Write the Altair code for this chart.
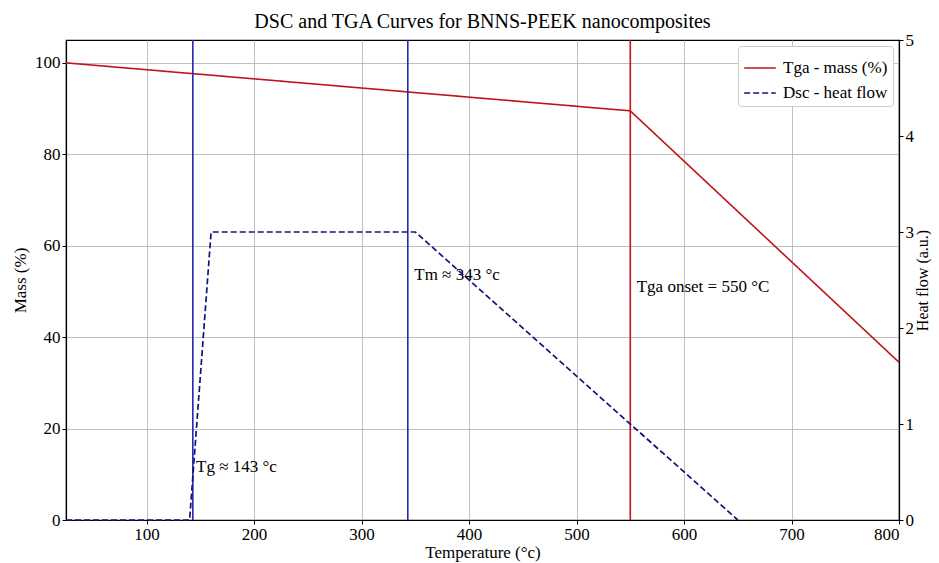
import altair as alt
import pandas as pd

# TGA curve
tga_temp = [25, 550, 800]
tga_mass = [100, 89.5, 34.5]
# DSC curve
dsc_temp = [25, 140, 160, 350, 650]
dsc_heat = [0, 0, 3, 3, 0]
# Marker lines
blue_marks = [143, 343]
red_marks = [550]
# Annotations
ann_text = ["Tg \u2248 143 \u00b0c", "Tm \u2248 343 \u00b0c", "Tga onset = 550 \u00b0C"]
ann_x = [146, 349, 556]
ann_y = [11.5, 53.5, 50.9]

series = ["Tga - mass (%)", "Dsc - heat flow"]
FONT = "Liberation Serif"

tga_df = pd.DataFrame({"T": tga_temp, "v": tga_mass, "s": series[0]})
dsc_df = pd.DataFrame({"T": dsc_temp, "v": dsc_heat, "s": series[1]})
blue_df = pd.DataFrame({"T": blue_marks})
red_df = pd.DataFrame({"T": red_marks})
ann_df = pd.DataFrame({"t": ann_text, "x": ann_x, "y": ann_y})

xscale = alt.Scale(domain=[25, 800], nice=False, zero=False)
xaxis = alt.Axis(title="Temperature (\u00b0c)", values=list(range(100, 801, 100)),
                 grid=True, gridColor="#b0b0b0", gridWidth=0.8,
                 labelPadding=2, titlePadding=2)
color = alt.Color("s:N", scale=alt.Scale(domain=series, range=["#c0141c", "#141478"]),
                  legend=alt.Legend(title=None, orient="top-right", offset=6,
                                    symbolType="stroke", symbolStrokeWidth=1.6,
                                    symbolSize=1000, labelFont=FONT, labelFontSize=17,
                                    strokeColor="#cccccc", fillColor="white",
                                    padding=5, cornerRadius=3, labelColor="black",
                                    rowPadding=-7, labelOffset=6))
dash = alt.StrokeDash("s:N", scale=alt.Scale(domain=series, range=[[1, 0], [6, 3]]),
                      legend=alt.Legend(title=None))

lscale = alt.Scale(domain=[0, 105], nice=False)

tga = alt.Chart(tga_df).mark_line(strokeWidth=1.6).encode(
    x=alt.X("T:Q", scale=xscale, axis=xaxis),
    y=alt.Y("v:Q", scale=lscale,
            axis=alt.Axis(title="Mass (%)", values=[0, 20, 40, 60, 80, 100],
                          grid=True, gridColor="#b0b0b0", gridWidth=0.8,
                          titlePadding=5)),
    color=color, strokeDash=dash,
)

rules_blue = alt.Chart(blue_df).mark_rule(strokeWidth=1.6, color="#2626b4").encode(
    x=alt.X("T:Q", scale=xscale),
)
rules_red = alt.Chart(red_df).mark_rule(strokeWidth=1.6, color="#c0141c").encode(
    x=alt.X("T:Q", scale=xscale),
)

texts = alt.Chart(ann_df).mark_text(align="left", baseline="middle", font=FONT,
                                    fontSize=17, color="black").encode(
    x=alt.X("x:Q", scale=xscale),
    y=alt.Y("y:Q", scale=lscale),
    text="t:N",
)

left = alt.layer(tga, rules_blue, rules_red, texts)

dsc = alt.Chart(dsc_df).mark_line(strokeWidth=1.7).encode(
    x=alt.X("T:Q", scale=xscale),
    y=alt.Y("v:Q", scale=alt.Scale(domain=[0, 5], nice=False),
            axis=alt.Axis(title="Heat flow (a.u.)", orient="right", values=[0, 1, 2, 3, 4, 5],
                          grid=False, titleAngle=270, titleBaseline="top",
                          titlePadding=1, titleFontSize=16)),
    color=color, strokeDash=dash,
)

chart = alt.layer(left, dsc).resolve_scale(y="independent").properties(
    width=833, height=480,
    title=alt.Title("DSC and TGA Curves for BNNS-PEEK nanocomposites", font=FONT,
                    fontSize=20, fontWeight="normal", color="black", offset=-1),
    autosize=alt.AutoSizeParams(type="none"),
    padding={"left": 58, "top": 32, "right": 32, "bottom": 43},
).configure_axis(
    labelFont=FONT, titleFont=FONT, labelFontSize=17, titleFontSize=17,
    titleFontWeight="normal", labelColor="black", titleColor="black",
    domainColor="black", tickColor="black", domainWidth=1.2, tickSize=4,
).configure_view(stroke="black", strokeWidth=1.2)

chart.save("out.html", embed_options={"renderer": "svg", "actions": False})
